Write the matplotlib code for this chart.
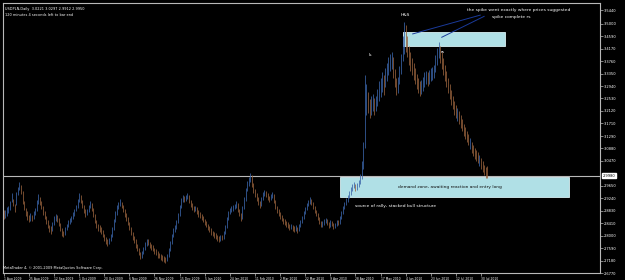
import matplotlib
matplotlib.use("Agg")
import matplotlib.pyplot as plt
from matplotlib.patches import Rectangle

# daily bars, USDPLN, one entry per bar (Sunday bars included)
highs = [
    2.884, 2.885, 2.896, 2.899, 2.915, 2.941, 2.922, 2.906, 2.944, 2.962,
    2.978, 2.966, 2.947, 2.914, 2.893, 2.880, 2.870, 2.876, 2.870, 2.881,
    2.893, 2.917, 2.937, 2.929, 2.914, 2.898, 2.881, 2.866, 2.851, 2.836,
    2.831, 2.846, 2.864, 2.872, 2.867, 2.858, 2.841, 2.825, 2.816, 2.829,
    2.840, 2.851, 2.858, 2.866, 2.878, 2.889, 2.903, 2.922, 2.940, 2.933,
    2.917, 2.901, 2.888, 2.889, 2.903, 2.916, 2.908, 2.891, 2.871, 2.852,
    2.838, 2.834, 2.828, 2.820, 2.807, 2.797, 2.789, 2.794, 2.806, 2.828,
    2.855, 2.880, 2.900, 2.911, 2.921, 2.912, 2.901, 2.888, 2.874, 2.862,
    2.845, 2.828, 2.812, 2.799, 2.788, 2.772, 2.759, 2.746, 2.750, 2.763,
    2.778, 2.790, 2.788, 2.780, 2.774, 2.768, 2.761, 2.755, 2.749, 2.743,
    2.740, 2.738, 2.734, 2.731, 2.740, 2.760, 2.783, 2.807, 2.824, 2.835,
    2.853, 2.876, 2.902, 2.923, 2.934, 2.931, 2.933, 2.941, 2.935, 2.918,
    2.907, 2.899, 2.899, 2.895, 2.884, 2.877, 2.871, 2.866, 2.856, 2.848,
    2.840, 2.831, 2.824, 2.817, 2.813, 2.809, 2.804, 2.799, 2.803, 2.803,
    2.815, 2.836, 2.862, 2.883, 2.893, 2.897, 2.900, 2.906, 2.914, 2.908,
    2.889, 2.876, 2.899, 2.928, 2.958, 2.980, 2.993, 3.008, 2.999, 2.975,
    2.955, 2.941, 2.928, 2.916, 2.928, 2.944, 2.950, 2.948, 2.940, 2.931,
    2.939, 2.945, 2.937, 2.917, 2.899, 2.889, 2.878, 2.868, 2.860, 2.855,
    2.850, 2.845, 2.840, 2.840, 2.837, 2.832, 2.834, 2.830, 2.838, 2.853,
    2.866, 2.882, 2.896, 2.909, 2.917, 2.928, 2.922, 2.911, 2.898, 2.886,
    2.875, 2.862, 2.850, 2.847, 2.856, 2.860, 2.856, 2.845, 2.852, 2.850,
    2.842, 2.843, 2.853, 2.852, 2.866, 2.882, 2.899, 2.910, 2.923, 2.934,
    2.947, 2.960, 2.970, 2.978, 2.972, 2.974, 2.985, 3.004, 3.045, 3.110,
    3.330, 3.300, 3.275, 3.250, 3.260, 3.268, 3.255, 3.262, 3.285, 3.310,
    3.320, 3.340, 3.330, 3.355, 3.370, 3.390, 3.400, 3.405, 3.390, 3.350,
    3.320, 3.325, 3.360, 3.400, 3.460, 3.505, 3.495, 3.460, 3.425, 3.405,
    3.385, 3.370, 3.355, 3.335, 3.320, 3.310, 3.315, 3.325, 3.340, 3.345,
    3.340, 3.348, 3.352, 3.358, 3.365, 3.395, 3.420, 3.440, 3.425, 3.405,
    3.385, 3.362, 3.342, 3.322, 3.300, 3.280, 3.262, 3.245, 3.232, 3.220,
    3.210, 3.198, 3.185, 3.170, 3.158, 3.146, 3.135, 3.124, 3.110, 3.100,
    3.090, 3.082, 3.075, 3.066, 3.055, 3.045, 3.035, 3.028, 3.030,
]
lows = [
    2.855, 2.860, 2.866, 2.874, 2.886, 2.911, 2.897, 2.879, 2.902, 2.933,
    2.950, 2.938, 2.905, 2.884, 2.866, 2.853, 2.845, 2.850, 2.848, 2.856,
    2.869, 2.880, 2.905, 2.903, 2.887, 2.870, 2.856, 2.840, 2.824, 2.812,
    2.806, 2.816, 2.835, 2.850, 2.846, 2.831, 2.815, 2.800, 2.795, 2.804,
    2.818, 2.829, 2.838, 2.845, 2.855, 2.866, 2.880, 2.893, 2.911, 2.907,
    2.890, 2.875, 2.862, 2.868, 2.879, 2.893, 2.880, 2.862, 2.842, 2.825,
    2.817, 2.811, 2.805, 2.795, 2.784, 2.773, 2.766, 2.772, 2.783, 2.797,
    2.820, 2.846, 2.870, 2.888, 2.897, 2.890, 2.877, 2.863, 2.850, 2.834,
    2.818, 2.801, 2.787, 2.777, 2.761, 2.748, 2.735, 2.724, 2.728, 2.740,
    2.754, 2.767, 2.768, 2.758, 2.754, 2.748, 2.741, 2.735, 2.728, 2.725,
    2.721, 2.718, 2.714, 2.710, 2.716, 2.730, 2.750, 2.773, 2.796, 2.812,
    2.823, 2.843, 2.866, 2.892, 2.910, 2.910, 2.913, 2.920, 2.907, 2.894,
    2.886, 2.877, 2.880, 2.871, 2.863, 2.857, 2.853, 2.844, 2.834, 2.828,
    2.818, 2.811, 2.804, 2.798, 2.794, 2.790, 2.784, 2.780, 2.784, 2.785,
    2.790, 2.806, 2.826, 2.851, 2.871, 2.878, 2.881, 2.887, 2.893, 2.878,
    2.864, 2.850, 2.856, 2.888, 2.916, 2.946, 2.965, 2.978, 2.962, 2.942,
    2.928, 2.915, 2.903, 2.892, 2.898, 2.917, 2.930, 2.929, 2.917, 2.912,
    2.918, 2.925, 2.907, 2.887, 2.876, 2.866, 2.856, 2.847, 2.840, 2.836,
    2.830, 2.827, 2.820, 2.822, 2.817, 2.813, 2.815, 2.810, 2.815, 2.829,
    2.842, 2.856, 2.872, 2.885, 2.897, 2.905, 2.900, 2.887, 2.874, 2.864,
    2.851, 2.838, 2.828, 2.829, 2.835, 2.842, 2.834, 2.824, 2.830, 2.831,
    2.821, 2.825, 2.833, 2.834, 2.840, 2.856, 2.872, 2.889, 2.900, 2.912,
    2.923, 2.936, 2.949, 2.957, 2.949, 2.952, 2.960, 2.970, 2.988, 3.020,
    3.090, 3.200, 3.205, 3.190, 3.200, 3.212, 3.200, 3.210, 3.228, 3.245,
    3.258, 3.275, 3.265, 3.290, 3.310, 3.330, 3.345, 3.350, 3.320, 3.290,
    3.265, 3.270, 3.300, 3.335, 3.375, 3.400, 3.405, 3.390, 3.365, 3.345,
    3.330, 3.315, 3.300, 3.285, 3.272, 3.262, 3.268, 3.278, 3.290, 3.300,
    3.295, 3.302, 3.310, 3.315, 3.320, 3.340, 3.365, 3.385, 3.370, 3.350,
    3.330, 3.310, 3.292, 3.272, 3.252, 3.232, 3.218, 3.200, 3.188, 3.180,
    3.170, 3.157, 3.145, 3.130, 3.118, 3.108, 3.098, 3.085, 3.072, 3.062,
    3.052, 3.046, 3.040, 3.030, 3.020, 3.010, 3.000, 2.992, 2.991,
]
# u = bull bar, d = bear bar
up = ("duuuuudduu" "uddddddudu" "uuuddddddd" "duuudddddu" "uuuuuuuuud"
      "ddduuudddd" "ddddddduuu" "uuuuuddddd" "dddddddduu" "uudddddddd"
      "dddduuuuuu" "uuuuuduudd" "dduddddddd" "ddddddddud" "uuuuuuuuud"
      "dduuuuuudd" "dddduuuddd" "uudddddddd" "dddudduduu" "uuuuuudddd"
      "ddduuuddud" "duuduuuuuu" "uuuuduuuuu" "uudduuduuu" "uuduuuuudd"
      "duuuuudddd" "dddddduuuu" "duuuuuuudd" "dddddddddu" "dddddddudd"
      "ddduddddd")

date_labels = ["1 Aug 2009", "25 Aug 2009", "12 Sep 2009", "1 Oct 2009",
               "20 Oct 2009", "6 Nov 2009", "26 Nov 2009", "15 Dec 2009",
               "5 Jan 2010", "24 Jan 2010", "11 Feb 2010", "2 Mar 2010",
               "22 Mar 2010", "9 Apr 2010", "28 Apr 2010", "17 May 2010",
               "4 Jun 2010", "23 Jun 2010", "12 Jul 2010", "30 Jul 2010"]
bars_per_label = 16
price_ticks = [3.5440, 3.5000, 3.4590, 3.4170, 3.3760, 3.3350, 3.2940,
               3.2530, 3.2120, 3.1710, 3.1290, 3.0880, 3.0470, 2.9650,
               2.9240, 2.8830, 2.8410, 2.8000, 2.7590, 2.7180, 2.6770]
bid = 2.9980
header = "USDPLN,Daily  3.0221 3.0297 2.9912 2.9950"
timer = "120 minutes 4 seconds left to bar end"

UP_COL = "#3a64a8"
DN_COL = "#94603c"
GRID = "#b8b8b8"

fig = plt.figure(figsize=(6.25, 2.8), dpi=100, facecolor="black")
ax = fig.add_axes([3 / 625, 7 / 280, 597 / 625, 270 / 280])
ax.set_facecolor("black")

n = min(len(highs), len(lows), len(up))
xs = list(range(n))
cols = [UP_COL if up[i] == "u" else DN_COL for i in range(n)]
ax.vlines(xs, lows[:n], highs[:n], colors=cols, lw=0.55, zorder=3)

ax.set_xlim(-0.5, 379.8)
ax.set_ylim(2.6770, 3.5680)

# objects drawn on the chart
ax.add_patch(Rectangle((254, 3.427), 65, 0.046, facecolor="#b0e0e6",
                       edgecolor="#d8f0f4", lw=0.6, zorder=2))
ax.add_patch(Rectangle((214, 2.928), 146, 0.066, facecolor="#b0e0e6",
                       edgecolor="#d8f0f4", lw=0.6, zorder=2))
ax.plot([260.5, 303.5], [3.466, 3.528], color="#1a3a9a", lw=0.7, zorder=4)
ax.plot([279.0, 306.0], [3.455, 3.524], color="#1a3a9a", lw=0.7, zorder=4)
ax.axhline(bid, color=GRID, lw=0.8, zorder=1)

fs = 3.2
ax.text(255.6, 3.528, "H&S", color="white", fontsize=fs, ha="center", va="center", zorder=5)
ax.text(233.5, 3.396, "ls", color="white", fontsize=fs, ha="center", va="center", zorder=5)
ax.text(278.5, 3.406, "rs", color="white", fontsize=fs, ha="left", va="center", zorder=5)
ax.text(328.0, 3.545, "the spike went exactly where prices suggested", color="white",
        fontsize=fs, ha="center", va="center", zorder=5)
ax.text(323.0, 3.522, "spike complete rs", color="white", fontsize=fs,
        ha="center", va="center", zorder=5)
ax.text(284.0, 2.961, "demand zone, awaiting reaction and entry long", color="#101010",
        fontsize=fs, ha="center", va="center", zorder=5)
ax.text(224.0, 2.898, "source of rally, stacked bull structure", color="white",
        fontsize=fs, ha="left", va="center", zorder=5)

# window texts
ax.text(0.004, 0.985, header, transform=ax.transAxes, color="white", fontsize=2.5,
        ha="left", va="top")
ax.text(0.004, 0.962, timer, transform=ax.transAxes, color="white", fontsize=2.5,
        ha="left", va="top")
ax.text(0.0, 0.012, "MetaTrader 4, \u00a9 2001-2009 MetaQuotes Software Corp.",
        transform=ax.transAxes, color="white", fontsize=2.5, ha="left", va="bottom")

# axes in MetaTrader style
for s in ax.spines.values():
    s.set_color(GRID)
    s.set_linewidth(0.8)
ax.yaxis.tick_right()
ax.set_yticks(price_ticks)
ax.set_yticklabels(["%.4f" % v for v in price_ticks])
ax.set_xticks([k * bars_per_label for k in range(len(date_labels))])
ax.set_xticklabels(date_labels, ha="left")
ax.tick_params(axis="y", colors=GRID, labelcolor="white", labelsize=2.6,
               length=2, width=0.5, pad=1)
ax.tick_params(axis="x", colors=GRID, labelcolor="white", labelsize=2.2,
               length=2, width=0.5, pad=0.8)
ax.text(1.004, (bid - 2.6770) / (3.5680 - 2.6770), "%.4f" % bid, transform=ax.transAxes,
        color="black", fontsize=2.6, ha="left", va="center",
        bbox=dict(boxstyle="square,pad=0.15", facecolor="white", edgecolor="white"))

fig.savefig("out.png", dpi=100, facecolor="black")
